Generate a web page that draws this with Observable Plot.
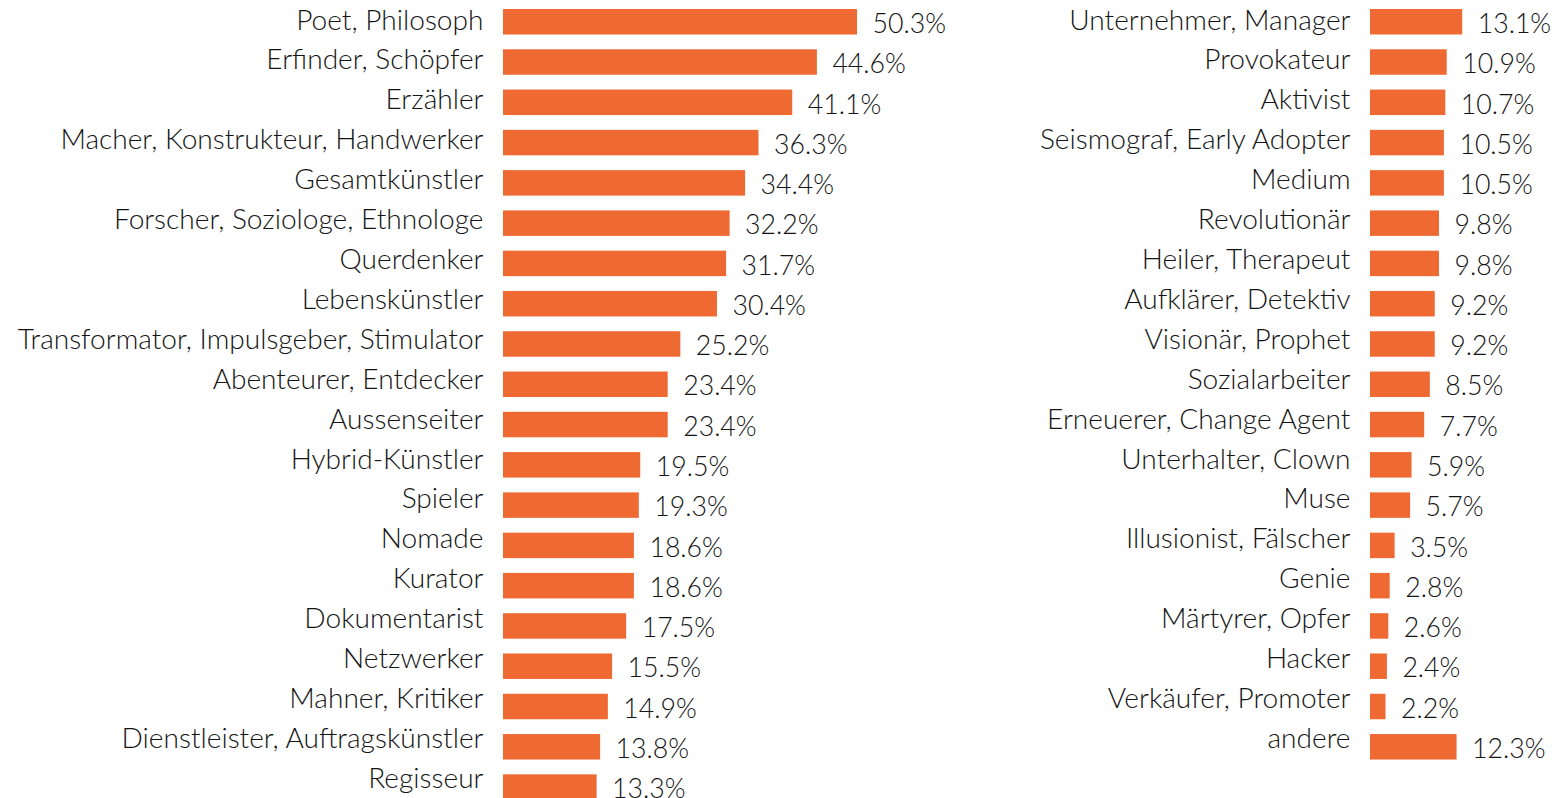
<!DOCTYPE html>
<html>
<head>
<meta charset="utf-8">
<script src="https://cdn.jsdelivr.net/npm/d3@7"></script>
<script src="https://cdn.jsdelivr.net/npm/@observablehq/plot@0.6"></script>
<style>
  html, body { margin: 0; padding: 0; background: #fff; overflow: hidden; }
  #wrap { position: relative; width: 1553px; height: 798px; overflow: hidden; }
  .layer { position: absolute; top: 0; }
</style>
</head>
<body>
<div id="wrap"></div>
<script>
// ---- data ----
const leftNames = [
  "Poet, Philosoph", "Erfinder, Schöpfer", "Erzähler", "Macher, Konstrukteur, Handwerker",
  "Gesamtkünstler", "Forscher, Soziologe, Ethnologe", "Querdenker", "Lebenskünstler",
  "Transformator, Impulsgeber, Stimulator", "Abenteurer, Entdecker", "Aussenseiter",
  "Hybrid-Künstler", "Spieler", "Nomade", "Kurator", "Dokumentarist", "Netzwerker",
  "Mahner, Kritiker", "Dienstleister, Auftragskünstler", "Regisseur"
];
const leftValues = [50.3, 44.6, 41.1, 36.3, 34.4, 32.2, 31.7, 30.4, 25.2, 23.4, 23.4,
  19.5, 19.3, 18.6, 18.6, 17.5, 15.5, 14.9, 13.8, 13.3];

const rightNames = [
  "Unternehmer, Manager", "Provokateur", "Aktivist", "Seismograf, Early Adopter", "Medium",
  "Revolutionär", "Heiler, Therapeut", "Aufklärer, Detektiv", "Visionär, Prophet",
  "Sozialarbeiter", "Erneuerer, Change Agent", "Unterhalter, Clown", "Muse",
  "Illusionist, Fälscher", "Genie", "Märtyrer, Opfer", "Hacker", "Verkäufer, Promoter", "andere"
];
const rightValues = [13.1, 10.9, 10.7, 10.5, 10.5, 9.8, 9.8, 9.2, 9.2, 8.5, 7.7, 5.9, 5.7,
  3.5, 2.8, 2.6, 2.4, 2.2, 12.3];

// ---- layout ----
const FONT_FAMILY = "Lato, 'Open Sans', sans-serif";
const FONT_WEIGHT = 300;
const BAR_COLOR = "#EF6A32";
const TEXT_COLOR = "#141414";
const PX_PER_PCT = 354 / 50.3;
const STEP = 40.28;          // bar row pitch
const PAD = 0.367;
const Y0 = 9 - STEP * PAD;
const LABEL_STEP = 39.91;    // category label row pitch
const LABEL_BASE0 = 29;      // baseline of first category label
const VALUE_BASE_OFF = 10.7; // value baseline below bar centre

// fit font size so longest label spans ~466px like the reference
const ctx = document.createElement("canvas").getContext("2d");
ctx.font = `${FONT_WEIGHT} 100px ${FONT_FAMILY}`;
const wLong = ctx.measureText("Transformator, Impulsgeber, Stimulator").width;
const FS = Math.max(18, Math.min(30, 466 * 100 / wLong));
const FS_VAL = FS * 0.95;

const wrap = document.getElementById("wrap");

function layer(el, left) {
  el.classList.add("layer");
  el.style.left = left + "px";
  wrap.append(el);
}

function panel(names, values, width, x0, left) {
  const data = names.map((n, i) => ({name: n, value: values[i]}));
  const maxV = d3.max(values);
  const n = names.length;
  // bars + value labels
  layer(Plot.plot({
    width, height: 798,
    marginTop: 0, marginBottom: 0, marginLeft: 0, marginRight: 0,
    style: {background: "transparent", fontFamily: FONT_FAMILY},
    x: {domain: [0, maxV], range: [x0, x0 + maxV * PX_PER_PCT], axis: null},
    y: {type: "band", domain: names, range: [Y0, Y0 + STEP * (n + PAD)], padding: PAD, round: false, axis: null},
    marks: [
      Plot.barX(data, {x: "value", y: "name", fill: BAR_COLOR}),
      Plot.text(data, {x: "value", y: "name", text: d => d.value.toFixed(1) + "%",
        dx: 15, dy: VALUE_BASE_OFF - 0.32 * FS_VAL,
        textAnchor: "start", fontSize: FS_VAL, fontWeight: FONT_WEIGHT, fill: TEXT_COLOR})
    ]
  }), left);
  // category labels (own row grid, as in the reference)
  const c0 = LABEL_BASE0 - 0.32 * FS;
  layer(Plot.plot({
    width, height: 798,
    marginTop: 0, marginBottom: 0, marginLeft: 0, marginRight: 0,
    style: {background: "transparent", fontFamily: FONT_FAMILY},
    x: {domain: [0, maxV], range: [x0, x0 + maxV * PX_PER_PCT], axis: null},
    y: {type: "point", domain: names, range: [c0, c0 + LABEL_STEP * (n - 1)],
        padding: 0, round: false, axis: null},
    marks: [
      Plot.text(data, {x: 0, y: "name", text: "name", dx: -20, textAnchor: "end",
        fontSize: FS, fontWeight: FONT_WEIGHT, fill: TEXT_COLOR})
    ]
  }), left);
}

panel(leftNames, leftValues, 1000, 503, 0);
panel(rightNames, rightValues, 553, 370, 1000);
</script>
</body>
</html>
